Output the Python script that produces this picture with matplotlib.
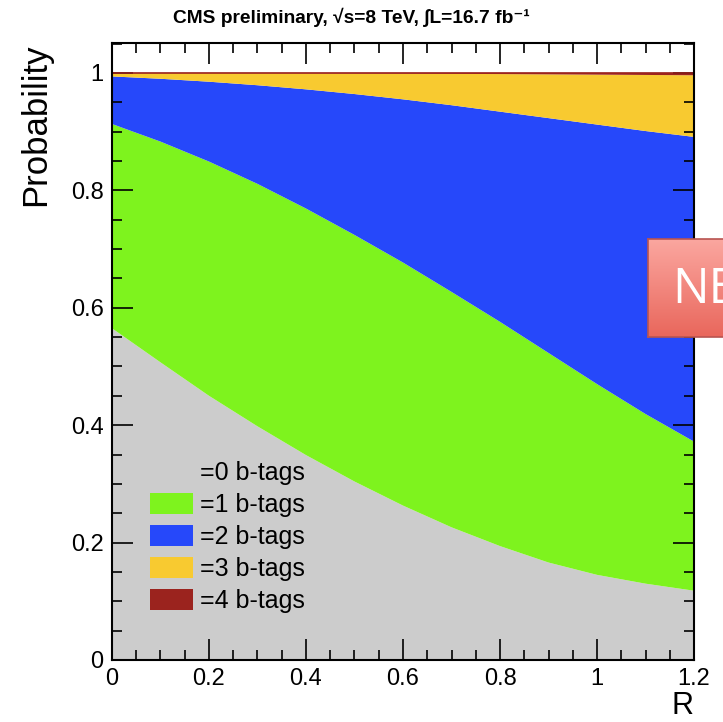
import numpy as np
import matplotlib
matplotlib.use("Agg")
import matplotlib.pyplot as plt
from matplotlib.ticker import MultipleLocator, FuncFormatter

plt.rcParams['font.family'] = ['Liberation Sans', 'DejaVu Sans']

# ---- data ----
R = [0.0, 0.1, 0.2, 0.3, 0.4, 0.5, 0.6, 0.7, 0.8, 0.9, 1.0, 1.1, 1.2]
p0 = [0.565, 0.507, 0.450, 0.398, 0.349, 0.304, 0.263, 0.226, 0.194, 0.166, 0.145, 0.130, 0.118]
p1 = [0.348, 0.376, 0.399, 0.413, 0.420, 0.420, 0.414, 0.401, 0.382, 0.357, 0.325, 0.289, 0.254]
p2 = [0.081, 0.107, 0.136, 0.168, 0.203, 0.240, 0.278, 0.318, 0.358, 0.400, 0.442, 0.482, 0.519]
p3 = [0.006, 0.0099, 0.0148, 0.0206, 0.0274, 0.0351, 0.0438, 0.0534, 0.064, 0.0745, 0.085, 0.0955, 0.105]
p4 = [0.0, 0.0001, 0.0002, 0.0004, 0.0006, 0.0009, 0.0012, 0.0016, 0.002, 0.0025, 0.003, 0.0035, 0.004]

labels = ["=0 b-tags", "=1 b-tags", "=2 b-tags", "=3 b-tags", "=4 b-tags"]
colors = ["#cccccc", "#7ef31e", "#2648fa", "#f8ca30", "#9b231e"]

fig = plt.figure(figsize=(7.23, 7.22), dpi=100)
ax = fig.add_axes([0.1549, 0.0859, 0.805, 0.8546])

polys = ax.stackplot(R, p0, p1, p2, p3, p4, colors=colors, labels=labels,
                     linewidth=0)
# thin outline of the top (=4 b-tags) band
ax.plot(R, [1.0] * len(R), color=colors[4], lw=1.2, zorder=3)

ax.set_xlim(0, 1.2)
ax.set_ylim(0, 1.051)

# ROOT-like ticks
ax.xaxis.set_major_locator(MultipleLocator(0.2))
ax.xaxis.set_minor_locator(MultipleLocator(0.05))
ax.yaxis.set_major_locator(MultipleLocator(0.2))
ax.yaxis.set_minor_locator(MultipleLocator(0.05))
fmt = FuncFormatter(lambda v, p: "%g" % round(v, 2))
ax.xaxis.set_major_formatter(fmt)
ax.yaxis.set_major_formatter(fmt)
ax.tick_params(which='both', direction='in', top=True, right=True,
               labelsize=17, width=1.2, zorder=5)
ax.tick_params(which='major', length=15, pad=6)
ax.tick_params(which='minor', length=7)
for sp in ax.spines.values():
    sp.set_linewidth(1.5)
    sp.set_zorder(6)
ax.set_axisbelow(False)

# axis titles
fig.text(36 / 723, 1 - 43 / 722, "Probability", rotation=90, ha='center',
         va='top', fontsize=25)
fig.text(694 / 723, 8 / 722, "R", ha='right', va='baseline', fontsize=22)

# header
fig.text(351 / 723, 1 - 17 / 722,
         "CMS preliminary, √s=8 TeV, ∫L=16.7 fb⁻¹",
         ha='center', va='center', fontsize=13.8, fontweight='bold')

# legend
ax.legend(loc='upper left', bbox_to_anchor=(150 / 723, 1 - 461 / 722),
          bbox_transform=fig.transFigure, frameon=False, fontsize=18,
          handlelength=1.72, handleheight=0.95, handletextpad=0.28,
          labelspacing=0.3, borderpad=0, borderaxespad=0)

# slide overlay box
bx = fig.add_axes([648 / 723, 1 - 337 / 722, 0.12, 98 / 722])
grad = np.linspace(0, 1, 100).reshape(-1, 1)
bx.imshow(grad, aspect='auto', cmap=matplotlib.colors.LinearSegmentedColormap.from_list(
    'nb', ['#fba7a0', '#e9675c']), extent=[0, 1, 0, 1])
bx.set_xticks([])
bx.set_yticks([])
for sp in bx.spines.values():
    sp.set_color('#b85450')
    sp.set_linewidth(1.2)
fig.text(672 / 723, 1 - 290 / 722, "NE", color='white', fontsize=35,
         ha='left', va='center', family=['Open Sans', 'DejaVu Sans'])

fig.savefig("out.png", dpi=100)
